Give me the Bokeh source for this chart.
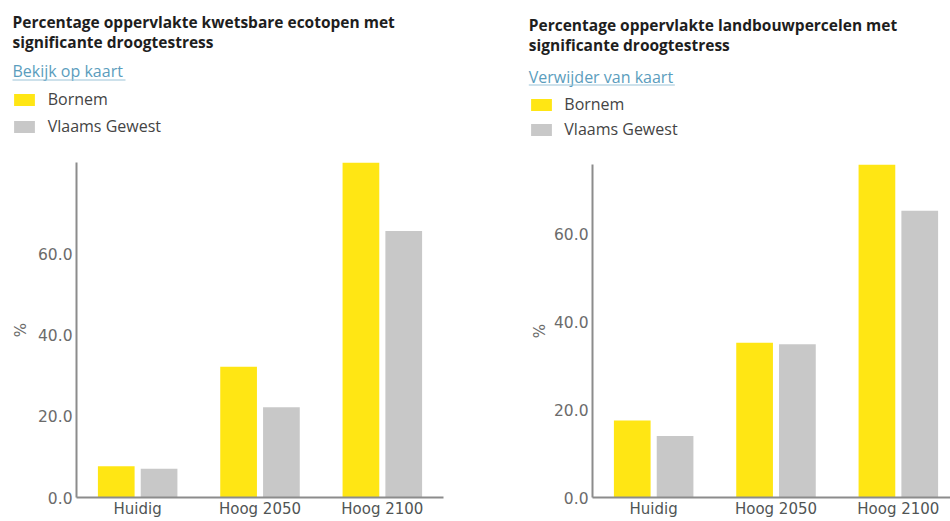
from bokeh.plotting import figure
from bokeh.models import (Range1d, FixedTicker, Label, Legend, LegendItem, BoxAnnotation,
                          ColumnDataSource, CustomJSTickFormatter, NumeralTickFormatter)
from bokeh.layouts import row, column
from bokeh.transform import dodge
from bokeh.embed import file_html
from bokeh.resources import INLINE

# ---------------- data ----------------
categories = ["Huidig", "Hoog 2050", "Hoog 2100"]
series_names = ["Bornem", "Vlaams Gewest"]
series_colors = ["#FFE614", "#C8C8C8"]

ecotopen_bornem = [7.7, 32.3, 82.7]
ecotopen_vlaams = [7.1, 22.3, 65.8]

landbouw_bornem = [17.5, 35.2, 75.8]
landbouw_vlaams = [14.0, 34.9, 65.3]

y_ticks = [0, 20, 40, 60]
y_axis_label = "%"

title_ecotopen = ["Percentage oppervlakte kwetsbare ecotopen met", "significante droogtestress"]
title_landbouw = ["Percentage oppervlakte landbouwpercelen met", "significante droogtestress"]
link_ecotopen = "Bekijk op kaart"
link_landbouw = "Verwijder van kaart"

# ---------------- layout constants ----------------
TOTAL_H = 520
HEADER_H = 145
CHART_H = TOTAL_H - HEADER_H
BOTTOM_BORDER = 20
TITLE_FONT = "Open Sans"
AXIS_FONT = "DejaVu Sans"
LEGEND_ITEM_H = 22


def make_source(bornem, vlaams):
    return ColumnDataSource(dict(
        x=[i + 0.5 for i in range(len(categories))],
        cat=categories,
        bornem=bornem,
        vlaams=vlaams,
    ))


def add_bars(p, src):
    r1 = p.vbar(x=dodge("x", -0.175), top="bornem", width=0.3, source=src,
                fill_color=series_colors[0], line_color=None)
    r2 = p.vbar(x=dodge("x", 0.175), top="vlaams", width=0.3, source=src,
                fill_color=series_colors[1], line_color=None)
    return r1, r2


def make_header(src, title_lines, link_text, width, fig_left,
                text_x, title_y, link_y, underline_y, underline_w,
                swatch_x, swatch_top, legend_spacing, label_standoff):
    # the header shares the chart's source; its ranges lie away from the data, so its
    # bars stay out of view and only serve the legend swatches
    h = figure(width=width, height=HEADER_H, output_backend="svg", toolbar_location=None,
               x_range=Range1d(1000, 1003), y_range=Range1d(1000, 1001),
               x_axis_location=None, y_axis_location=None,
               min_border=0, outline_line_color=None, frame_align=False,
               background_fill_color="white", border_fill_color="white")
    h.grid.visible = False

    def sx(xp):
        return xp - fig_left

    def sy(yp):
        return HEADER_H - yp

    for line, yp in zip(title_lines, title_y):
        h.add_layout(Label(x=sx(text_x), y=sy(yp), x_units="screen", y_units="screen",
                           text=line, text_font=TITLE_FONT, text_font_style="bold",
                           text_font_size="15.5px", text_color="#1e1e1e",
                           text_baseline="middle", text_align="left"))
    h.add_layout(Label(x=sx(text_x), y=sy(link_y), x_units="screen", y_units="screen",
                       text=link_text, text_font=TITLE_FONT, text_font_size="16px",
                       text_color="#5b9dbd", text_baseline="middle", text_align="left"))
    h.add_layout(BoxAnnotation(left=sx(text_x), right=sx(text_x + underline_w),
                               top=sy(underline_y), bottom=sy(underline_y + 1),
                               left_units="screen", right_units="screen",
                               top_units="screen", bottom_units="screen",
                               fill_color="#9cc4d8", fill_alpha=1, line_color=None))

    lr1, lr2 = add_bars(h, src)
    legend_top = swatch_top - (LEGEND_ITEM_H - 15) / 2.0
    legend_bottom = legend_top + 2 * LEGEND_ITEM_H + legend_spacing
    legend = Legend(items=[LegendItem(label=series_names[0], renderers=[lr1]),
                           LegendItem(label=series_names[1], renderers=[lr2])],
                    location=(sx(swatch_x), sy(legend_bottom)),
                    orientation="vertical", padding=0, margin=0,
                    border_line_color=None, background_fill_alpha=0,
                    glyph_width=26, glyph_height=15, label_height=15,
                    label_standoff=label_standoff, spacing=legend_spacing,
                    label_text_font=TITLE_FONT, label_text_font_size="16px",
                    label_text_color="#444444")
    h.add_layout(legend)
    return h


def make_chart(src, values, width, border_left, border_right, border_top, x_end,
               axis_label_standoff):
    ymax = max(values)
    p = figure(width=width, height=CHART_H, output_backend="svg", toolbar_location=None,
               x_range=Range1d(0, x_end), y_range=Range1d(0, ymax),
               min_border_left=border_left, min_border_right=border_right,
               min_border_top=border_top, min_border_bottom=BOTTOM_BORDER,
               outline_line_color=None, frame_align=False,
               background_fill_color="white", border_fill_color="white")
    p.grid.visible = False
    add_bars(p, src)

    p.xaxis.ticker = FixedTicker(ticks=[i + 0.5 for i in range(len(categories))])
    p.xaxis.formatter = CustomJSTickFormatter(args=dict(cats=categories),
                                              code="return cats[Math.floor(tick)] || '';")
    p.yaxis.ticker = FixedTicker(ticks=y_ticks)
    p.yaxis.formatter = NumeralTickFormatter(format="0.0")
    p.yaxis.axis_label = y_axis_label
    for ax in (p.xaxis[0], p.yaxis[0]):
        ax.axis_line_color = "#8c8c8c"
        ax.axis_line_width = 2
        ax.major_tick_line_color = None
        ax.minor_tick_line_color = None
        ax.major_tick_out = 0
        ax.major_tick_in = 0
        ax.major_label_text_font = AXIS_FONT
        ax.major_label_text_font_size = "15.5px"
    p.xaxis.major_label_text_font_size = "15px"
    p.xaxis.major_label_text_color = "#505555"
    p.xaxis.major_label_standoff = 2
    p.yaxis.major_label_text_color = "#6b6b6b"
    p.yaxis.major_label_standoff = 4
    p.yaxis.axis_label_text_font = AXIS_FONT
    p.yaxis.axis_label_text_font_size = "15px"
    p.yaxis.axis_label_text_font_style = "normal"
    p.yaxis.axis_label_text_color = "#6b6b6b"
    p.yaxis.axis_label_standoff = axis_label_standoff
    return p


left_w = 475
right_w = 475

src1 = make_source(ecotopen_bornem, ecotopen_vlaams)
h1 = make_header(src1, title_ecotopen, link_ecotopen, left_w, 0,
                 text_x=12, title_y=[21, 41], link_y=70, underline_y=79, underline_w=113,
                 swatch_x=10.7, swatch_top=91.7, legend_spacing=5, label_standoff=11)
p1 = make_chart(src1, ecotopen_bornem + ecotopen_vlaams, left_w, border_left=76, border_right=32,
                border_top=162 - HEADER_H, x_end=3.0, axis_label_standoff=5)

src2 = make_source(landbouw_bornem, landbouw_vlaams)
h2 = make_header(src2, title_landbouw, link_landbouw, right_w, left_w,
                 text_x=528.3, title_y=[24, 44], link_y=76, underline_y=84, underline_w=146,
                 swatch_x=528.3, swatch_top=96.7, legend_spacing=3, label_standoff=10)
frame_w_right = right_w - 117
p2 = make_chart(src2, landbouw_bornem + landbouw_vlaams, right_w, border_left=117,
                border_right=0, border_top=164 - HEADER_H,
                x_end=3.0 * frame_w_right / 367.0, axis_label_standoff=2)

layout = row(column(h1, p1, spacing=0), column(h2, p2, spacing=0), spacing=0)
open("out.html", "w").write(file_html(layout, INLINE))
